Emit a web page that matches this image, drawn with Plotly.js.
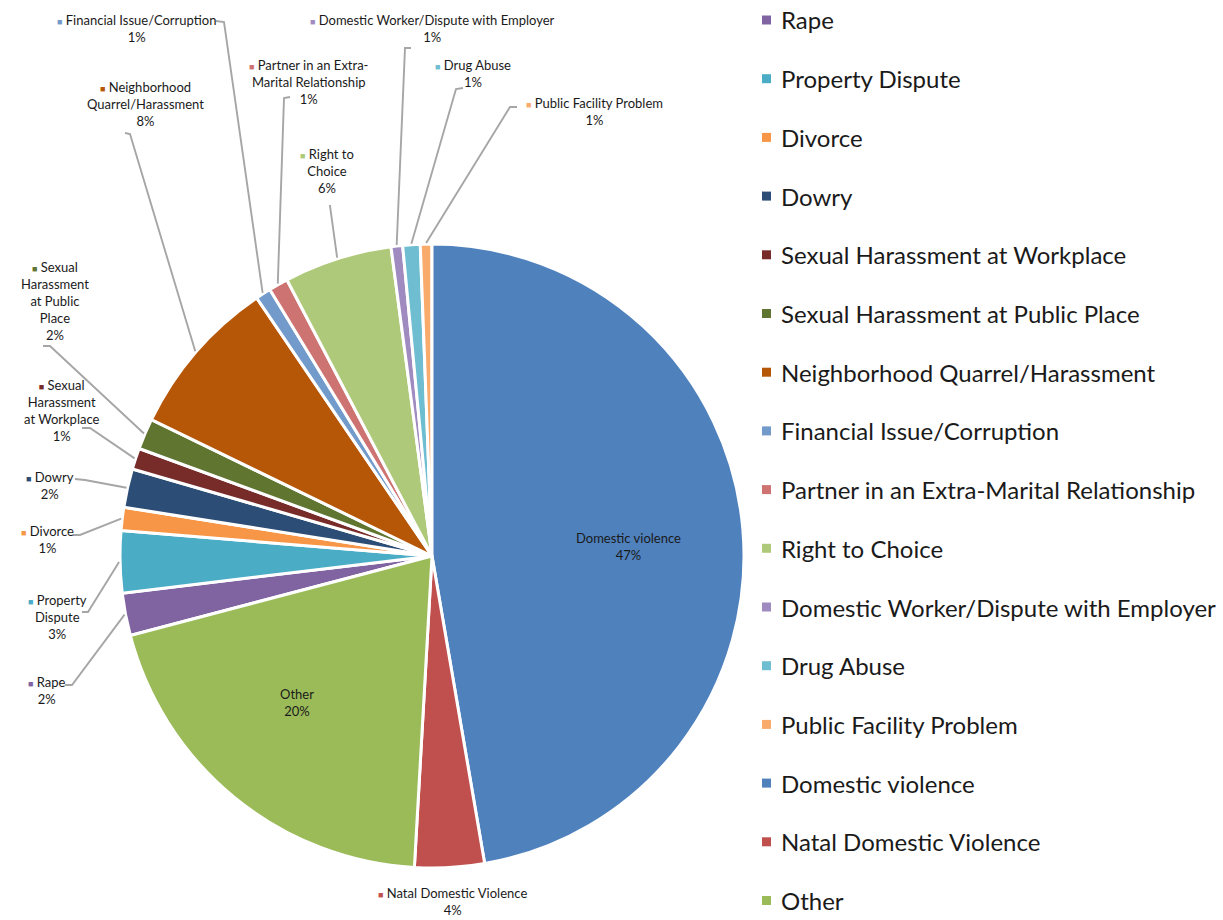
<!DOCTYPE html>
<html><head><meta charset="utf-8">
<script src="https://cdn.plot.ly/plotly-3.0.1.min.js"></script>
<style>html,body{margin:0;padding:0;background:#fff}</style>
</head><body>
<div id="chart" style="width:1223px;height:920px"></div>
<script>
// ---- data (legend order) ----
const categories = ["Rape","Property Dispute","Divorce","Dowry","Sexual Harassment at Workplace",
  "Sexual Harassment at Public Place","Neighborhood Quarrel/Harassment","Financial Issue/Corruption",
  "Partner in an Extra-Marital Relationship","Right to Choice","Domestic Worker/Dispute with Employer",
  "Drug Abuse","Public Facility Problem","Domestic violence","Natal Domestic Violence","Other"];
const values = [2.2, 3.2, 1.2, 2.0, 1.1, 1.6, 8.3, 0.8, 1.0, 5.6, 0.6, 0.9, 0.6, 47.3, 3.6, 20.0];
const colors = ["#8064A2","#4BACC6","#F79646","#2C4D75","#772C2A","#5F7530","#B65708","#729ACA",
  "#CD7371","#AFC97A","#A08BC0","#6FBDD1","#F9AB6B","#4F81BD","#C0504D","#9BBB59"];
// wrapped data-label text
const labelText = ["Rape","Property<br>Dispute","Divorce","Dowry","Sexual<br>Harassment<br>at Workplace",
  "Sexual<br>Harassment<br>at Public<br>Place","Neighborhood<br>Quarrel/Harassment","Financial Issue/Corruption",
  "Partner in an Extra-<br>Marital Relationship","Right to<br>Choice","Domestic Worker/Dispute with Employer",
  "Drug Abuse","Public Facility Problem","Domestic violence","Natal Domestic Violence","Other"];

// ---- layout helpers (pixels) ----
const W = 1223, H = 920;
const cx = 432, cy = 556, R = 312;
// label box centres (pixel)
const labelPos = [[47,690],[57,617],[47,539],[50,485],[62,410],[55,301],[145,104],[136,29],
  [309,82],[327,171],[432,29],[473,74],[594,111],[628,546],[452,901],[297,702]];
// label-side start of leader line and its short elbow (pixel); null = no leader line
const leaderStart = [[[65,685],[72,685]],[[82,612],[88,612]],[[73,535],[80,535]],[[75,479],[85,480]],
  [[82,428],[90,428]],[[43,346],[50,346]],[[125,133],[130,134]],[[216,21],[224,22]],
  [[290,97],[284,98]],[[330,205],[330,206]],[[411,48],[405,48]],[[463,88],[456,89]],
  [[517,107],[510,107]],null,null,null];
const showKey = [true,true,true,true,true,true,true,true,true,true,true,true,true,false,true,false];

const total = values.reduce((a,b)=>a+b,0);
const idxDV = categories.indexOf("Domestic violence");
let before = 0; for (let i = idxDV; i < values.length; i++) before += values[i];
let rot = before / total * 360; if (rot > 180) rot -= 360;

const annotations = [];
const shapes = [];
const lblFont = {family:"Lato, 'Open Sans', sans-serif", size:13, color:"#1a1a1a"};
const P = (x,y) => (x/W).toFixed(5) + "," + (1-y/H).toFixed(5);
let cum = before / total * 360;
for (let i = 0; i < values.length; i++) {
  const span = values[i] / total * 360;
  const mid = (cum + span / 2) * Math.PI / 180;
  cum += span;
  const pct = Math.round(values[i] / total * 100) + "%";
  const key = showKey[i] ? '<span style="color:' + colors[i] + ';font-size:9px">■</span> ' : '';
  const [lx, ly] = labelPos[i];
  annotations.push({xref:"paper", yref:"paper", x:lx/W, y:1-ly/H, xanchor:"center", yanchor:"middle",
    showarrow:false, text: key + labelText[i] + "<br>" + pct, font: lblFont});
  if (leaderStart[i]) {
    const tx = cx + (R+1) * Math.sin(mid), ty = cy - (R+1) * Math.cos(mid);
    const [a, b] = leaderStart[i];
    shapes.push({type:"path", xref:"paper", yref:"paper",
      path: "M" + P(a[0],a[1]) + "L" + P(b[0],b[1]) + "L" + P(tx,ty),
      line:{color:"#A6A6A6", width:1.9}});
  }
}

// ---- custom legend ----
const legTop = 20, legStep = 58.7;
for (let i = 0; i < categories.length; i++) {
  const yc = legTop + i * legStep;
  shapes.push({type:"rect", xref:"paper", yref:"paper", x0:762/W, x1:771/W, y0:1-(yc+4.5)/H, y1:1-(yc-4.5)/H,
    fillcolor: colors[i], line:{width:0}});
  annotations.push({xref:"paper", yref:"paper", x:779/W, y:1-yc/H, xanchor:"left", yanchor:"middle",
    showarrow:false, text: categories[i], font:{family:"Lato, 'Open Sans', sans-serif", size:24, color:"#1a1a1a"}});
}

const trace = {
  type:"pie", labels: categories, values: values, sort:false, direction:"clockwise", rotation: rot,
  marker:{colors: colors, line:{color:"#ffffff", width:3}}, textinfo:"none", hoverinfo:"label+percent",
  showlegend:false,
  domain:{x:[(cx-R)/W, (cx+R)/W], y:[1-(cy+R)/H, 1-(cy-R)/H]}
};
const layout = {width:W, height:H, margin:{l:0,r:0,t:0,b:0}, paper_bgcolor:"#ffffff",
  showlegend:false, annotations: annotations, shapes: shapes};
Plotly.newPlot("chart", [trace], layout, {displayModeBar:false, staticPlot:true});
</script>
</body></html>
